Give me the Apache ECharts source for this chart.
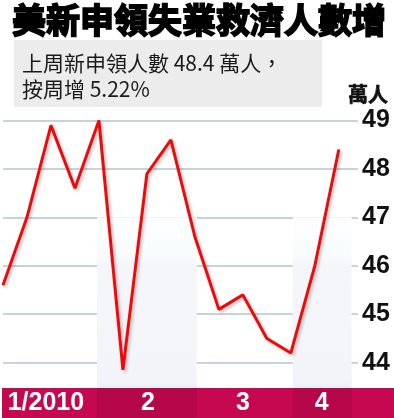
<!DOCTYPE html>
<html><head><meta charset="utf-8">
<script src="https://cdn.jsdelivr.net/npm/echarts@6/dist/echarts.min.js"></script>
<style>html,body{margin:0;padding:0;background:#fff}#c{width:394px;height:418px}</style>
</head><body><div id="c"></div>
<script>
// ---- data ----
const weeks = ['1/2','1/9','1/16','1/23','1/30','2/6','2/13','2/20','2/27','3/6','3/13','3/20','3/27','4/3','4/10'];
const claims = [45.6, 47.0, 48.9, 47.6, 49.0, 43.85, 47.9, 48.6, 46.6, 45.1, 45.4, 44.5, 44.2, 46.0, 48.4];
const yTicks = [44, 45, 46, 47, 48, 49];
const monthLabels = ['1/2010', '2', '3', '4'];
const monthLabelAt = [1.79, 6.04, 10.0, 13.29];      // in week-index units
const shadedMonths = [[3.92, 8.08], [12.08, 14.54]]; // Feb, Apr (week-index units)
const shadeTop = 47;
const titleText = '美新申領失業救濟人數增';
const subLine1 = '上周新申領人數 48.4 萬人，';
const subLine2 = '按周增 5.22%';
const unitText = '萬人';

const chart = echarts.init(document.getElementById('c'));
const latin = 'Liberation Sans, Arial, Helvetica, sans-serif';
const cjk = '"Noto Sans CJK TC", "Noto Sans CJK SC", sans-serif';

const seriesData = weeks.map((w, i) => [i, claims[i]]);

chart.setOption({
  animation: false,
  backgroundColor: '#fff',
  grid: { left: 3, right: 36, top: 120.5, bottom: 6.9, containLabel: false, outerBoundsMode: 'none' },
  xAxis: {
    type: 'value', min: 0, max: 14.8, z: 20,
    axisLine: { show: false }, axisTick: { show: false }, splitLine: { show: false },
    axisLabel: {
      customValues: monthLabelAt,
      inside: true, margin: 8, verticalAlign: 'middle',
      color: '#fff', fontSize: 25, fontWeight: 'bold', fontFamily: latin,
      formatter: v => { const k = monthLabelAt.indexOf(v); return k >= 0 ? monthLabels[k] : ''; }
    }
  },
  yAxis: {
    type: 'value', position: 'right', min: 43, max: 49, interval: 1,
    axisLine: { show: false }, axisTick: { show: false },
    axisLabel: {
      margin: 4, color: '#111', fontSize: 25, fontWeight: 'bold', fontFamily: latin,
      formatter: v => yTicks.indexOf(v) >= 0 ? String(v) : ''
    },
    splitLine: { show: true, lineStyle: { color: '#c6d3dc', width: 2 } }
  },
  series: [{
    type: 'line', data: seriesData, symbol: 'none', clip: false, z: 5,
    lineStyle: { color: '#ee0a0a', width: 3, shadowColor: 'rgba(0,0,0,0.22)', shadowBlur: 3, shadowOffsetX: 2, shadowOffsetY: 2 },
    markArea: {
      silent: true,
      itemStyle: {
        color: { type: 'linear', x: 0, y: 0, x2: 0, y2: 1, colorStops: [
          { offset: 0, color: '#fcfeff' }, { offset: 0.2, color: '#f8fbfc' }, { offset: 0.25, color: '#f4f6f9' }, { offset: 0.85, color: '#f2f4f9' }, { offset: 0.88, color: '#ebeef6' }, { offset: 1, color: '#eaedf5' } ] }
      },
      data: shadedMonths.map(b => [{ xAxis: b[0], yAxis: shadeTop }, { xAxis: b[1], yAxis: 43 }])
    }
  }]
});

// decorations derived through the chart's own scales
const stripTop = 388;
const graphics = [
  { type: 'text', x: 199, y: 20, z: 30,
    style: { text: titleText, font: 'bold 34px ' + cjk, fill: '#000', align: 'center', verticalAlign: 'middle', stroke: '#000', lineWidth: 1.8 } },
  { type: 'rect', shape: { x: 14, y: 40, width: 308, height: 67 }, z: 1, style: { fill: '#ececec' } },
  { type: 'text', x: 22, y: 63, z: 30, style: { text: subLine1, font: '21px ' + cjk, fill: '#1a1a1a', verticalAlign: 'middle' } },
  { type: 'text', x: 22, y: 89, z: 30, style: { text: subLine2, font: '21px ' + cjk, fill: '#1a1a1a', verticalAlign: 'middle' } },
  { type: 'text', x: 368, y: 94, z: 30, style: { text: unitText, font: 'bold 20px ' + cjk, fill: '#111', align: 'center', verticalAlign: 'middle', stroke: '#111', lineWidth: 0.6 } },
  { type: 'rect', shape: { x: 2, y: stripTop, width: 392, height: 418 - stripTop }, z: 10, style: { fill: '#c5084f' } }
];
shadedMonths.forEach(b => {
  const x0 = chart.convertToPixel({ xAxisIndex: 0 }, b[0]);
  const x1 = chart.convertToPixel({ xAxisIndex: 0 }, b[1]);
  graphics.push({ type: 'rect', shape: { x: x0, y: stripTop, width: x1 - x0, height: 418 - stripTop }, z: 11, style: { fill: '#b5074a' } });
});
chart.setOption({ graphic: graphics });
</script></body></html>
